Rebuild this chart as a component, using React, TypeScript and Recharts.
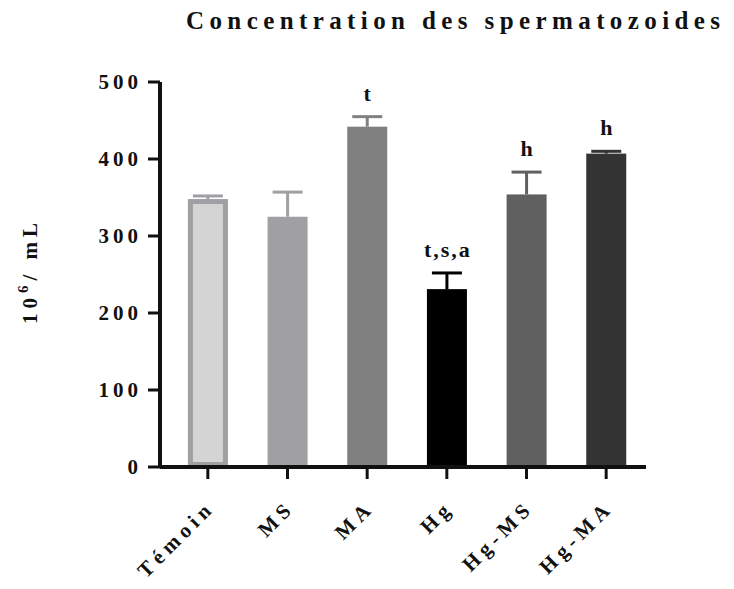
import React from "react";
import { BarChart, Bar, XAxis, YAxis } from "recharts";

// Concentration des spermatozoides, mean + SEM per group
const groups = ["Témoin", "MS", "MA", "Hg", "Hg-MS", "Hg-MA"];
const means = [348, 325, 442, 231, 354, 407];
const sems = [4, 32, 13, 21, 29, 3];
const marks = ["", "", "t", "t,s,a", "h", "h"];
const fills = ["#d4d4d4", "#a0a0a4", "#808080", "#000000", "#606060", "#333333"];
const edges = ["#a0a0a4", "#a0a0a4", "#808080", "#000000", "#606060", "#333333"];
const yTicks = [0, 100, 200, 300, 400, 500];

const data = groups.map((g, i) => ({
  group: g,
  mean: means[i],
  sem: sems[i],
  mark: marks[i],
  idx: i,
}));

const FONT = "'Liberation Serif', 'Times New Roman', serif";

const BarWithError = (props: any) => {
  const { x, y, width, height, payload } = props;
  const i = payload.idx;
  const unit = height / payload.mean;
  const errY = y - payload.sem * unit;
  const cx = x + width / 2;
  const sw = i === 0 ? 5 : 0;
  return (
    <g>
      <line x1={cx} x2={cx} y1={y} y2={errY} stroke={edges[i]} strokeWidth={3} />
      <line x1={cx - 15} x2={cx + 15} y1={errY} y2={errY} stroke={edges[i]} strokeWidth={3} />
      <rect
        x={x + sw / 2}
        y={y + sw / 2}
        width={width - sw}
        height={height - sw}
        fill={fills[i]}
        stroke={sw ? edges[i] : "none"}
        strokeWidth={sw}
      />
      {payload.mark && (
        <text
          x={cx + 1}
          y={errY - 16}
          textAnchor="middle"
          fontFamily={FONT}
          fontWeight="bold"
          fontSize={22}
          letterSpacing={2}
          fill="#111"
        >
          {payload.mark}
        </text>
      )}
    </g>
  );
};

const YTick = (props: any) => {
  const { x, y, payload } = props;
  return (
    <text
      x={x - 4}
      y={y}
      dy={7}
      textAnchor="end"
      fontFamily={FONT}
      fontWeight="bold"
      fontSize={21}
      letterSpacing={4}
      fill="#111"
    >
      {payload.value}
    </text>
  );
};

const XTick = (props: any) => {
  const { x, y, payload } = props;
  return (
    <g transform={`translate(${x + 8},${y + 28})`}>
      <text
        transform="rotate(-45)"
        textAnchor="end"
        fontFamily={FONT}
        fontWeight="bold"
        fontSize={21}
        letterSpacing={5}
        fill="#111"
      >
        {payload.value}
      </text>
    </g>
  );
};

const YLabel = () => (
  <text
    transform="translate(37,271) rotate(-90)"
    textAnchor="middle"
    fontFamily={FONT}
    fontWeight="bold"
    fontSize={21}
    letterSpacing={5}
    fill="#111"
  >
    10
    <tspan fontSize={15} dy={-9}>6</tspan>
    <tspan dy={9}>/ mL</tspan>
  </text>
);

export default function App() {
  return (
    <div style={{ position: "absolute", left: 0, top: 0, width: 734, height: 589, background: "#fff" }}>
      <div
        style={{
          position: "absolute",
          left: 186,
          top: 9,
          fontFamily: FONT,
          fontWeight: "bold",
          fontSize: 25,
          lineHeight: "24px",
          letterSpacing: 5.4,
          color: "#111",
          whiteSpace: "nowrap",
        }}
      >
        Concentration des spermatozoides
      </div>
      <BarChart
        width={734}
        height={589}
        data={data}
        margin={{ top: 82, right: 88, bottom: 92, left: 100 }}
        barCategoryGap="25%"
      >
        <XAxis
          dataKey="group"
          height={30}
          padding={{ left: 8, right: 0 }}
          axisLine={{ stroke: "#111", strokeWidth: 4 }}
          tickLine={{ stroke: "#111", strokeWidth: 3 }}
          tickSize={12}
          tick={<XTick />}
          interval={0}
        />
        <YAxis
          domain={[0, 500]}
          ticks={yTicks}
          width={60}
          axisLine={{ stroke: "#111", strokeWidth: 4 }}
          tickLine={{ stroke: "#111", strokeWidth: 3 }}
          tickSize={12}
          tick={<YTick />}
          label={<YLabel />}
        />
        <Bar dataKey="mean" isAnimationActive={false} shape={<BarWithError />} />
      </BarChart>
    </div>
  );
}
